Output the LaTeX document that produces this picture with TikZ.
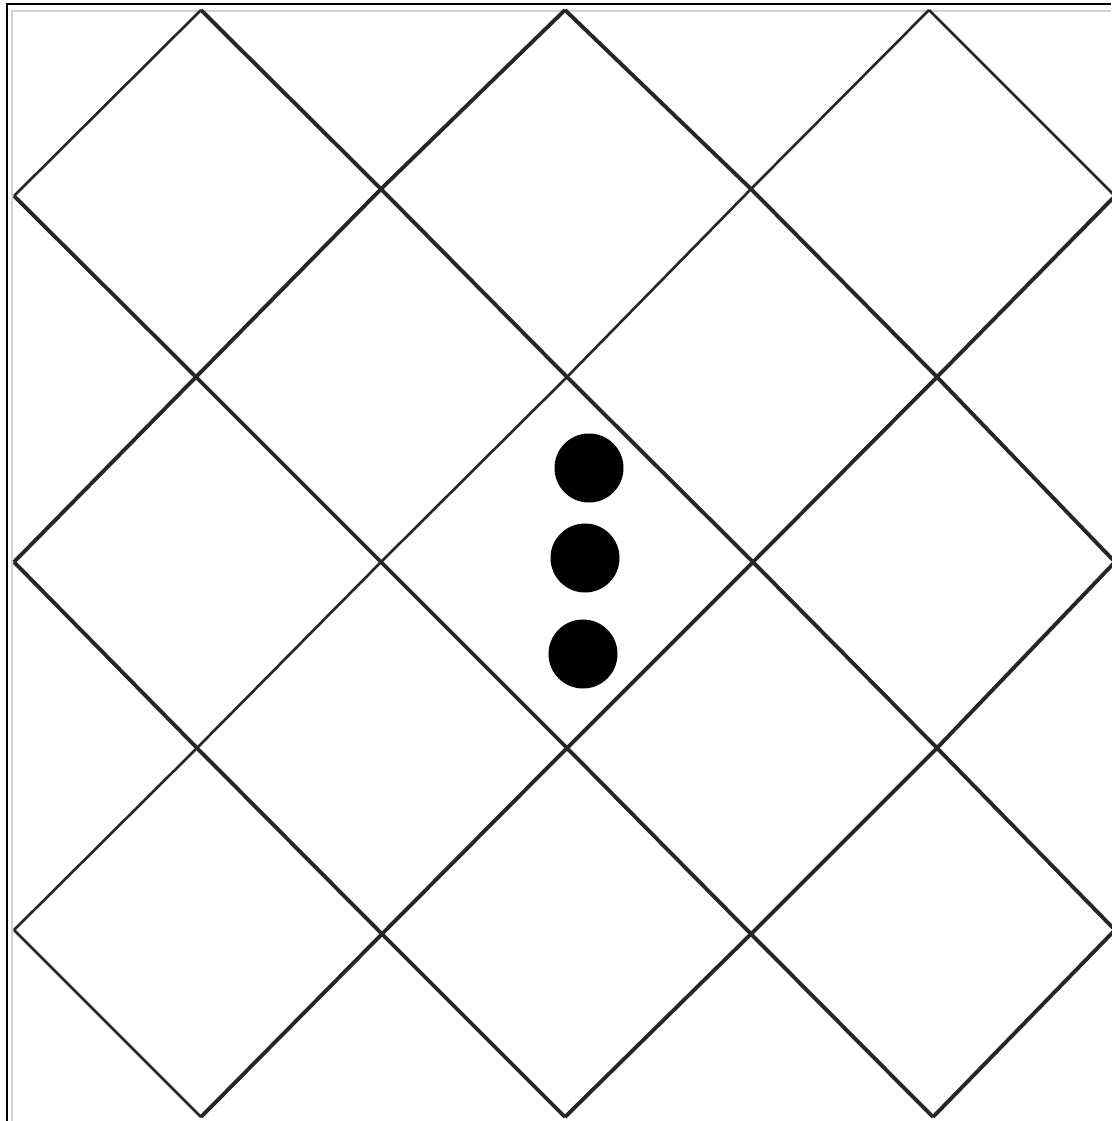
\documentclass[tikz,border=0pt]{standalone}
\usepackage{xcolor}

\begin{document}
\begin{tikzpicture}[x=0.01cm, y=-0.01cm,
    gridline/.style={line width=1.1pt, draw=black!85, line join=miter},
    thinline/.style={line width=0.75pt, draw=black!85},
    dot/.style={fill=black},
    frame/.style={line width=0.35pt, draw=black},
    inner/.style={line width=0.7pt, draw=gray!35}
]
\useasboundingbox (0,0) rectangle (1111,1121);

% Frame
\draw[frame] (7,1121) -- (7,4) -- (1111,4);
\draw[inner] (12,1121) -- (12,11) -- (1111,11);

% Falling lines
\draw[gridline] (201,10) -- (381,189) -- (567,377) -- (753,562) -- (937,748) -- (1115,930);
\draw[gridline] (565,10) -- (751,189) -- (937,377) -- (1115,562);
\draw[thinline] (929,10) -- (1115,196);
\draw[gridline] (14,196) -- (196,377) -- (381,562) -- (567,748) -- (751,934) -- (933,1117);
\draw[gridline] (14,562) -- (197,748) -- (382,934) -- (565,1117);
\draw[thinline] (14,930) -- (201,1117);

% Rising lines
\draw[thinline] (14,196) -- (201,10);
\draw[gridline] (14,562) -- (196,377) -- (381,189) -- (565,10);
\draw[thinline] (14,930) -- (197,748) -- (381,562) -- (567,377) -- (751,189) -- (929,10);
\draw[gridline] (201,1117) -- (382,934) -- (567,748) -- (753,562) -- (937,377) -- (1115,196);
\draw[gridline] (565,1117) -- (751,934) -- (937,748) -- (1115,562);
\draw[gridline] (933,1117) -- (1115,930);

% Dots
\fill[dot] (589,468) circle (34.5);
\fill[dot] (585,558) circle (34.5);
\fill[dot] (583,654) circle (34.5);
\end{tikzpicture}
\end{document}
